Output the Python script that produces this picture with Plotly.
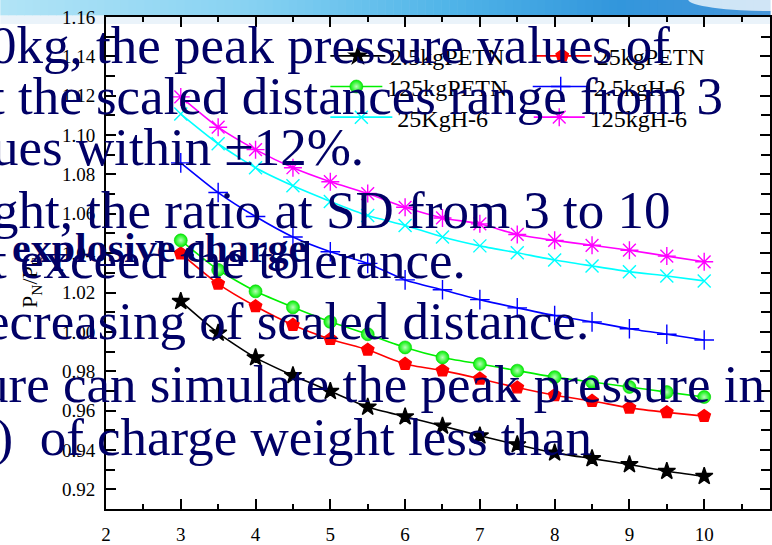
import plotly.graph_objects as go

# ---- data: P_N / P_E ratio versus scaled distance ----
scaled_distance = [3, 3.5, 4, 4.5, 5, 5.5, 6, 6.5, 7, 7.5, 8, 8.5, 9, 9.5, 10]

petn_2_5kg = [1.0155, 0.9994, 0.9869, 0.9778, 0.9698, 0.9618, 0.9569, 0.9522,
              0.9472, 0.9427, 0.9385, 0.9356, 0.9326, 0.9292, 0.9266]
petn_25kg = [1.0398, 1.0244, 1.0130, 1.0035, 0.9963, 0.9909, 0.9837, 0.9803,
             0.9762, 0.9717, 0.9678, 0.9649, 0.9614, 0.9591, 0.9572]
petn_125kg = [1.0465, 1.0315, 1.0206, 1.0125, 1.0051, 0.9988, 0.9921, 0.9870,
              0.9837, 0.9803, 0.9770, 0.9745, 0.9720, 0.9694, 0.9669]
h6_2_5kg = [1.0859, 1.0708, 1.0586, 1.0482, 1.0407, 1.0348, 1.0264, 1.0214,
            1.0164, 1.0122, 1.0083, 1.0051, 1.0016, 0.9988, 0.9959]
h6_25kg = [1.1107, 1.0956, 1.0834, 1.0742, 1.0663, 1.0591, 1.0541, 1.0482,
           1.0437, 1.0402, 1.0365, 1.0335, 1.0306, 1.0284, 1.0259]
h6_125kg = [1.1194, 1.1040, 1.0926, 1.0834, 1.0763, 1.0703, 1.0633, 1.0579,
            1.0549, 1.0495, 1.0465, 1.0440, 1.0415, 1.0385, 1.0356]

series_names = ["2.5kgPETN", "25kgPETN", "125kgPETN", "2.5kgH-6", "25KgH-6", "125kgH-6"]
series_values = [petn_2_5kg, petn_25kg, petn_125kg, h6_2_5kg, h6_25kg, h6_125kg]

x_tick_values = [2, 3, 4, 5, 6, 7, 8, 9, 10]
y_tick_values = [0.92, 0.94, 0.96, 0.98, 1.00, 1.02, 1.04, 1.06, 1.08, 1.10, 1.12, 1.14, 1.16]

# ---- page geometry ----
W, H = 772, 545
ML, MR, MT, MB = 106, 0, 17, 30
PW, PH = W - ML - MR, H - MT - MB


def px_x(px):
    return (px - ML) / PW


def px_y(py):
    return (H - MB - py) / PH


SERIF = "Liberation Serif"
NAVY = "#000066"

# style + legend slot (symbol centre x, row centre y, gap symbol->label) per series
styles = [
    dict(color="#000000", symbol="star", size=13, slot=(353, 53, 55)),
    dict(color="#ff0000", symbol="pentagon", size=13, slot=(556, 53, 59)),
    dict(color="#00f000", symbol="circle", size=13, slot=(353, 84, 52)),
    dict(color="#0000ff", symbol="cross-thin-open", size=14, slot=(556, 84, 56)),
    dict(color="#00ffff", symbol="x-thin-open", size=13, slot=(353, 115, 62)),
    dict(color="#ff00ff", symbol="asterisk-open", size=15, slot=(557, 115, 51)),
]

legend_common = dict(
    font=dict(family=SERIF, size=24, color="black"), bgcolor="rgba(0,0,0,0)",
    borderwidth=0, xanchor="left", yanchor="top", itemclick=False,
)

fig = go.Figure()
legend_layouts = {}
for i, (name, vals, st) in enumerate(zip(series_names, series_values, styles)):
    leg_id = "legend" if i == 0 else "legend%d" % (i + 1)
    mx, my, iw = st["slot"]
    legend_layouts[leg_id] = dict(x=px_x(mx - 27), y=px_y(my - 19), itemwidth=iw,
                                  **legend_common)
    marker = dict(symbol=st["symbol"], size=st["size"], color=st["color"],
                  line=dict(color=st["color"], width=1.4))
    if st["symbol"] == "circle":
        marker["gradient"] = dict(type="radial", color="#b8ffb8")
        marker["line"] = dict(color="#00d000", width=0.6)
    fig.add_trace(go.Scatter(
        x=scaled_distance, y=vals, name=name, mode="lines+markers",
        line=dict(color=st["color"], width=1.6, shape="spline", smoothing=0.6),
        marker=marker, legend=leg_id,
    ))

# ---- slide header band (horizontal blue gradient) ----
stops = [(0, (178, 228, 246)), (250, (135, 210, 242)), (450, (80, 180, 232)),
         (620, (50, 150, 220)), (772, (70, 150, 218))]


def grad_color(px):
    for (x0, c0), (x1, c1) in zip(stops[:-1], stops[1:]):
        if x0 <= px <= x1:
            t = (px - x0) / (x1 - x0)
            return "rgb(%d,%d,%d)" % tuple(round(a + (b - a) * t) for a, b in zip(c0, c1))
    return "rgb(%d,%d,%d)" % stops[-1][1]


shapes = []
n_strips = 96
for i in range(n_strips):
    a = W * i / n_strips
    b = W * (i + 1) / n_strips + 0.6
    shapes.append(dict(type="rect", xref="paper", yref="paper", layer="below",
                       x0=px_x(a), x1=px_x(b), y0=px_y(15.5), y1=px_y(-1),
                       fillcolor=grad_color((a + b) / 2), line=dict(width=0)))
# soft highlight in the header's right corner
shapes.append(dict(type="circle", xref="paper", yref="paper", layer="below",
                   x0=px_x(690), x1=px_x(860), y0=px_y(11), y1=px_y(-12),
                   fillcolor="rgba(255,255,255,0.75)", line=dict(width=0)))
# pale strip under the header
shapes.append(dict(type="rect", xref="paper", yref="paper", layer="below",
                   x0=px_x(0), x1=px_x(W), y0=px_y(24), y1=px_y(15.5),
                   fillcolor="rgba(225,238,248,0.7)", line=dict(width=0)))

# ---- overlaid slide text ----
text_lines = [
    ("0kg, the peak pressure values of", 674, 63),
    ("t the scaled distances range from 3", 727, 115),
    ("ues within \u00b112%.", 367, 166),
    ("ght, the ratio at SD from 3 to 10", 675, 230),
    ("t exceed the tolerance.", 469, 281),
    ("ecreasing of scaled distance.", 592, 343),
    ("ure can simulate the peak pressure in", 769, 406),
    ("0)\u00a0\u00a0of charge weight less than", 595, 460),
]
BIG = 53
annotations = [dict(
    text="P<sub>N</sub>/P<sub>E</sub>", xref="paper", yref="paper",
    x=px_x(31), y=px_y(286), xanchor="center", yanchor="middle", textangle=-90,
    showarrow=False, font=dict(family=SERIF, size=22, color="black"))]
for txt, right_px, base_px in text_lines:
    annotations.append(dict(
        text=txt, xref="paper", yref="paper", x=px_x(right_px), y=px_y(base_px - 0.337 * BIG),
        xanchor="right", yanchor="middle", showarrow=False,
        font=dict(family=SERIF, size=BIG, color=NAVY)))
BOLD = 42
annotations.append(dict(
    text="<b>explosive charge</b>", xref="paper", yref="paper",
    x=px_x(10), y=px_y(265 - 0.337 * BOLD), xanchor="left", yanchor="middle",
    showarrow=False, font=dict(family=SERIF, size=BOLD, color=NAVY)))

axis_common = dict(
    showgrid=False, zeroline=False, showline=True, linecolor="black", linewidth=1.8,
    mirror="ticks", ticks="inside", tickcolor="black", tickwidth=1.5, ticklen=10,
    tickfont=dict(family=SERIF, size=19, color="black"),
)

fig.update_layout(
    width=W, height=H,
    margin=dict(l=ML, r=MR, t=MT, b=MB, pad=0),
    paper_bgcolor="white", plot_bgcolor="rgba(0,0,0,0)",
    showlegend=True,
    xaxis=dict(range=[2, 10.88], tickvals=x_tick_values, ticklabelstandoff=7,
               minor=dict(dtick=0.5, tick0=2, ticks="inside", ticklen=5,
                          tickwidth=1.5, tickcolor="black"),
               **axis_common),
    yaxis=dict(range=[0.91, 1.16], tickvals=y_tick_values, tickformat=".2f",
               ticklabelstandoff=5,
               minor=dict(dtick=0.01, tick0=0.91, ticks="inside", ticklen=9,
                          tickwidth=1.5, tickcolor="black"),
               **axis_common),
    shapes=shapes,
    annotations=annotations,
    **legend_layouts,
)

fig.write_html("out.html")
